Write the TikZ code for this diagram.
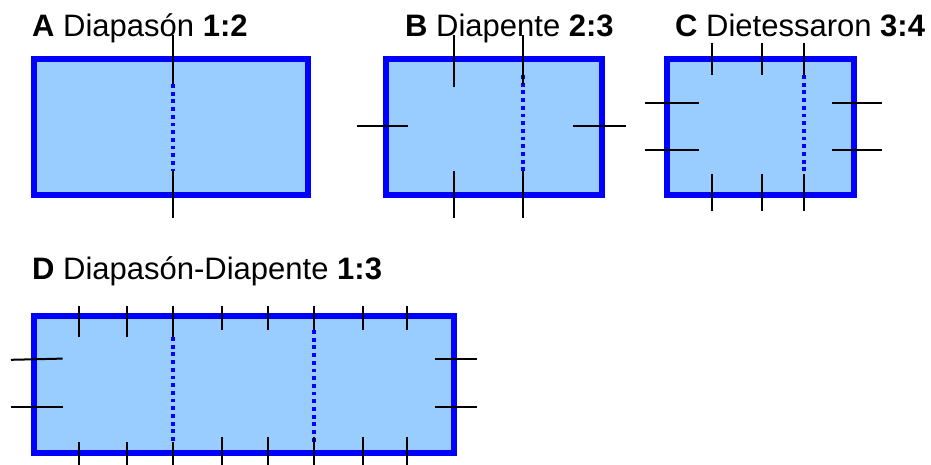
\documentclass[tikz,border=0pt]{standalone}
\usepackage{fontspec}
\setmainfont{Liberation Sans}
\definecolor{boxfill}{HTML}{99CCFF}
\definecolor{boxline}{HTML}{0000FF}
\tikzset{
  panel/.style={fill=boxfill, draw=boxline, line width=6pt},
  tick/.style={draw=black, line width=2pt},
  divide/.style={draw=boxline, line width=3.8pt, dash pattern=on 3.8pt off 3.9pt},
  title/.style={anchor=base west, inner sep=0pt, font=\fontsize{31}{36}\selectfont}
}
\begin{document}
\begin{tikzpicture}[x=1pt,y=-1pt]
\useasboundingbox (0,0) rectangle (931,464);
\clip (0,0) rectangle (931,464);
% titles
\node[title] (tA) at (32,36) {\textbf{A} Diapasón \textbf{1:2}};
\node[title] (tB) at (405,36) {\textbf{B} Diapente \textbf{2:3}};
\node[title] (tC) at (675,36) {\textbf{C} Dietessaron \textbf{3:4}};
\node[title] (tD) at (32,279.3) {\textbf{D} Diapasón-Diapente \textbf{1:3}};
% panels
\draw[panel] (33.7,58.7) rectangle (308,195);
\draw[panel] (386.3,58.7) rectangle (602,195);
\draw[panel] (667.3,58.7) rectangle (853.7,195);
\draw[panel] (34,315.7) rectangle (453.7,453);
% dotted dividers
\draw[divide] (173,84) -- (173,171);
\draw[divide] (523.3,75) -- (523.3,172);
\draw[divide] (803.7,75) -- (803.7,172);
\draw[divide] (173.3,337) -- (173.3,441);
\draw[divide] (314,330) -- (314,442);
% A ticks
\draw[tick] (173,35) -- (173,84);
\draw[tick] (173,171) -- (173,218);
% B ticks
\draw[tick] (454.3,35) -- (454.3,87);
\draw[tick] (454.3,171) -- (454.3,218);
\draw[tick] (523.3,35) -- (523.3,84);
\draw[tick] (523.3,171) -- (523.3,218);
\draw[tick] (357,126) -- (408,126);
\draw[tick] (572.7,126) -- (625.7,126);
% C ticks
\foreach \x in {712,761.7,803.7}{
  \draw[tick] (\x,43) -- (\x,75);
  \draw[tick] (\x,174) -- (\x,211);
}
\foreach \y in {103,150}{
  \draw[tick] (645,\y) -- (699,\y);
  \draw[tick] (832,\y) -- (882,\y);
}
% D ticks
\foreach \x in {79.3,127.3,173.3}{
  \draw[tick] (\x,306) -- (\x,336.7);
  \draw[tick] (\x,442) -- (\x,470);
}
\foreach \x in {221.7,268.3,314,362.7,407.3}{
  \draw[tick] (\x,306) -- (\x,330);
  \draw[tick] (\x,436.7) -- (\x,470);
}
\draw[tick] (11,359.8) -- (62.7,358.6);
\draw[tick] (11,406.5) -- (62.7,406.5);
\draw[tick] (435,359) -- (476.7,359);
\draw[tick] (435,406.5) -- (476.7,406.5);
\end{tikzpicture}
\end{document}
